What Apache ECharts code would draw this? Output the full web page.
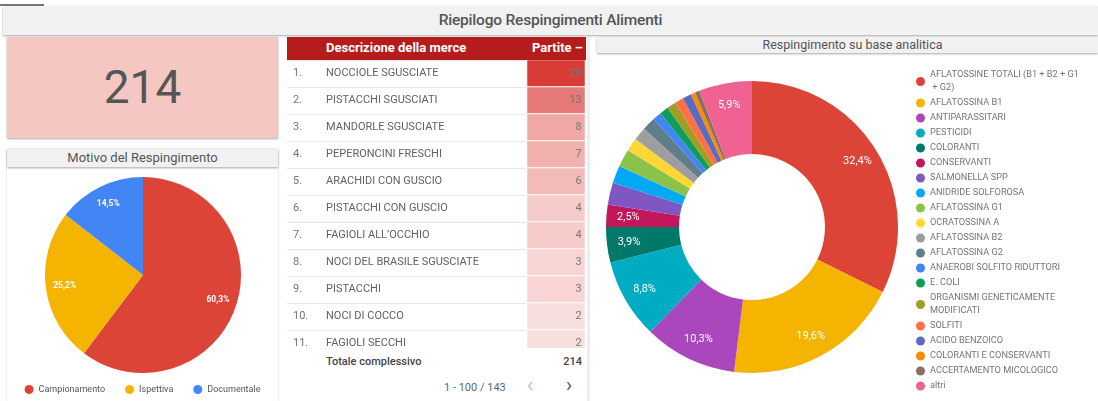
<!DOCTYPE html>
<html>
<head>
<meta charset="utf-8">
<script src="https://cdn.jsdelivr.net/npm/echarts@6/dist/echarts.min.js"></script>
<style>
  body { margin: 0; width: 1098px; height: 401px; background: #fff; font-family: Roboto, sans-serif; position: relative; overflow: hidden; }
  .abs { position: absolute; }
  .bar { background: #f1f1f1; color: #555; text-align: center; box-shadow: 0 1px 2px rgba(0,0,0,0.35); }
  .panel { background: #fff; box-shadow: 0 0 2px rgba(0,0,0,0.2); }
</style>
</head>
<body>
<div class="abs" style="left:0;top:4px;width:44px;height:2px;background:#777"></div>
<div class="abs bar" style="left:3px;top:6px;width:1095px;height:29px;line-height:28px;font-size:15.5px;font-weight:500;letter-spacing:-0.2px">Riepilogo Respingimenti Alimenti</div>

<div class="abs" id="kpi" style="left:7px;top:37px;width:271px;height:101px;background:#f4c7c3;box-shadow:0 1px 2px rgba(0,0,0,0.35);color:#555;font-size:46px;text-align:center;line-height:100px"></div>

<div class="abs panel" style="left:7px;top:149px;width:271px;height:252px"></div>
<div class="abs bar" style="left:7px;top:149px;width:271px;height:18px;line-height:18px;font-size:13px">Motivo del Respingimento</div>
<div class="abs" id="motivo" style="left:7px;top:167px;width:271px;height:234px"></div>

<div class="abs" style="left:287px;top:37px;width:299px;height:23px;background:#b51c1c;color:#fff;font-weight:700;font-size:13px;line-height:22px">
  <span class="abs" style="left:39px">Descrizione della merce</span>
  <span class="abs" style="right:3px">Partite &ndash;</span>
</div>
<div class="abs" style="left:287px;top:60px;width:298px;height:288px;overflow:hidden">
  <div id="tabella" style="width:298px;height:297px"></div>
</div>
<div class="abs" style="left:287px;top:353px;width:298px;height:18px;font-size:11px;font-weight:500;color:#444;line-height:18px">
  <span class="abs" style="left:39px">Totale complessivo</span>
  <span class="abs" id="totale" style="right:3px"></span>
</div>
<div class="abs" style="left:444px;top:380px;font-size:11px;color:#666;line-height:16px">1 - 100 / 143</div>
<div class="abs" style="left:527px;top:375px;font-size:20px;color:#bbb;line-height:20px">&lsaquo;</div>
<div class="abs" style="left:566px;top:375px;font-size:20px;color:#555;line-height:20px">&rsaquo;</div>
<div class="abs" style="left:587px;top:37px;width:3px;height:364px;background:#eee"></div>

<div class="abs bar" style="left:597px;top:37px;width:501px;height:16px;line-height:16px;font-size:12.5px;text-indent:10px">Respingimento su base analitica</div>
<div class="abs" id="analisi" style="left:597px;top:53px;width:501px;height:348px"></div>

<script>
const totaleRespingimenti = 214;

const motivi = ['Campionamento', 'Ispettiva', 'Documentale'];
const motiviValori = [129, 54, 31];
const motiviColori = ['#db4437', '#f4b400', '#4285f4'];

const merci = [
  'NOCCIOLE SGUSCIATE', 'PISTACCHI SGUSCIATI', 'MANDORLE SGUSCIATE', 'PEPERONCINI FRESCHI',
  'ARACHIDI CON GUSCIO', 'PISTACCHI CON GUSCIO', 'FAGIOLI ALL\u2019OCCHIO', 'NOCI DEL BRASILE SGUSCIATE',
  'PISTACCHI', 'NOCI DI COCCO', 'FAGIOLI SECCHI'
];
const partite = [20, 13, 8, 7, 6, 4, 4, 3, 3, 2, 2];
const totalePartite = 214;

const analisi = [
  'AFLATOSSINE TOTALI (B1 + B2 + G1 + G2)', 'AFLATOSSINA B1', 'ANTIPARASSITARI', 'PESTICIDI',
  'COLORANTI', 'CONSERVANTI', 'SALMONELLA SPP', 'ANIDRIDE SOLFOROSA', 'AFLATOSSINA G1',
  'OCRATOSSINA A', 'AFLATOSSINA B2', 'AFLATOSSINA G2', 'ANAEROBI SOLFITO RIDUTTORI', 'E. COLI',
  'ORGANISMI GENETICAMENTE MODIFICATI', 'SOLFITI', 'ACIDO BENZOICO', 'COLORANTI E CONSERVANTI',
  'ACCERTAMENTO MICOLOGICO', 'altri'
];
const analisiValori = [66, 40, 21, 18, 8, 5, 5, 4, 4, 3, 3, 3, 2, 2, 2, 2, 2, 1, 1, 12];
const analisiColori = [
  '#db4437', '#f4b400', '#ab47bc', '#00acc1', '#00796b', '#c2185b', '#7e57c2', '#03a9f4',
  '#8bc34a', '#fdd835', '#9e9e9e', '#607d8b', '#4285f4', '#0f9d58', '#9e9d24', '#ff7043',
  '#5c6bc0', '#fb8c00', '#8d6e63', '#f06292'
];

document.getElementById('kpi').textContent = totaleRespingimenti;
document.getElementById('totale').textContent = totalePartite;

// percentuale con la virgola
function perc(v, tot) {
  return (v / tot * 100).toFixed(1).replace('.', ',') + '%';
}
const somma = arr => arr.reduce((a, b) => a + b, 0);

// sposta le etichette su un raggio fisso
function radialLabel(cx, cy, r) {
  return function (p) {
    const lx = p.labelRect.x + p.labelRect.width / 2;
    const ly = p.labelRect.y + p.labelRect.height / 2;
    const a = Math.atan2(ly - cy, lx - cx);
    return { x: cx + r * Math.cos(a), y: cy + r * Math.sin(a), align: 'center', verticalAlign: 'middle' };
  };
}

// Motivo del Respingimento
const motivoChart = echarts.init(document.getElementById('motivo'));
const totMotivi = somma(motiviValori);
motivoChart.setOption({
  animation: false,
  color: motiviColori,
  legend: {
    top: 213,
    left: 'center',
    icon: 'circle',
    itemWidth: 9,
    itemHeight: 9,
    itemGap: 20,
    textStyle: { fontSize: 9, color: '#555', fontFamily: 'Roboto' }
  },
  series: [{
    type: 'pie',
    center: [136, 108],
    radius: 98,
    startAngle: 90,
    label: {
      position: 'inside',
      color: '#fff',
      fontSize: 8.5,
      fontWeight: 'bold',
      fontFamily: 'Roboto',
      formatter: p => perc(p.value, totMotivi)
    },
    labelLayout: radialLabel(136, 108, 79),
    emphasis: { disabled: true },
    data: motivi.map((n, i) => ({ name: n, value: motiviValori[i] }))
  }]
});

// Tabella merci
const tabellaChart = echarts.init(document.getElementById('tabella'));
tabellaChart.setOption({
  animation: false,
  grid: [
    { left: 0, right: 0, top: 0, height: 297 },
    { left: 240, right: 0, top: 0, height: 297 }
  ],
  xAxis: [
    { gridIndex: 0, type: 'value', show: false },
    { gridIndex: 1, type: 'category', data: ['Partite'], show: false }
  ],
  yAxis: [
    {
      gridIndex: 0, type: 'category', data: merci, inverse: true,
      axisLine: { show: false }, axisTick: { show: false },
      splitLine: { show: true, lineStyle: { color: '#e8e8e8' } },
      axisLabel: {
        align: 'left', margin: -6, color: '#616161', fontSize: 11, fontFamily: 'Roboto',
        formatter: (v, i) => '{n|' + (i + 1) + '.}{d|' + v + '}',
        rich: { n: { width: 33, fontSize: 11, color: '#757575' }, d: { fontSize: 11, color: '#616161' } }
      }
    },
    { gridIndex: 1, type: 'category', data: merci, inverse: true, show: false }
  ],
  visualMap: {
    show: false, min: 0, max: 20, dimension: 2, seriesIndex: 0,
    inRange: { color: ['#fdf0f0', '#d93b37'] }
  },
  series: [{
    type: 'heatmap',
    xAxisIndex: 1,
    yAxisIndex: 1,
    itemStyle: { borderColor: '#fff', borderWidth: 1 },
    label: { show: true, position: 'insideRight', distance: 4, color: '#777', fontSize: 11, fontFamily: 'Roboto' },
    emphasis: { disabled: true },
    data: partite.map((v, i) => [0, i, v])
  }]
});

// Respingimento su base analitica
const analisiChart = echarts.init(document.getElementById('analisi'));
const totAnalisi = somma(analisiValori);
analisiChart.setOption({
  animation: false,
  color: analisiColori,
  legend: {
    orient: 'vertical',
    left: 314,
    top: 10.5,
    icon: 'circle',
    itemWidth: 9,
    itemHeight: 9,
    itemGap: 2,
    textStyle: { fontSize: 9.2, color: '#757575', fontFamily: 'Roboto', width: 152, overflow: 'break', lineHeight: 13 }
  },
  series: [{
    type: 'pie',
    center: [155, 174],
    radius: [73, 146],
    startAngle: 90,
    label: {
      position: 'inside',
      color: '#fff',
      fontSize: 11,
      fontFamily: 'Roboto',
      formatter: p => perc(p.value, totAnalisi)
    },
    labelLayout: radialLabel(155, 174, 124),
    emphasis: { disabled: true },
    data: analisi.map((n, i) => ({
      name: n,
      value: analisiValori[i],
      label: { show: i < 6 || i === analisi.length - 1 }
    }))
  }]
});
</script>
</body>
</html>
